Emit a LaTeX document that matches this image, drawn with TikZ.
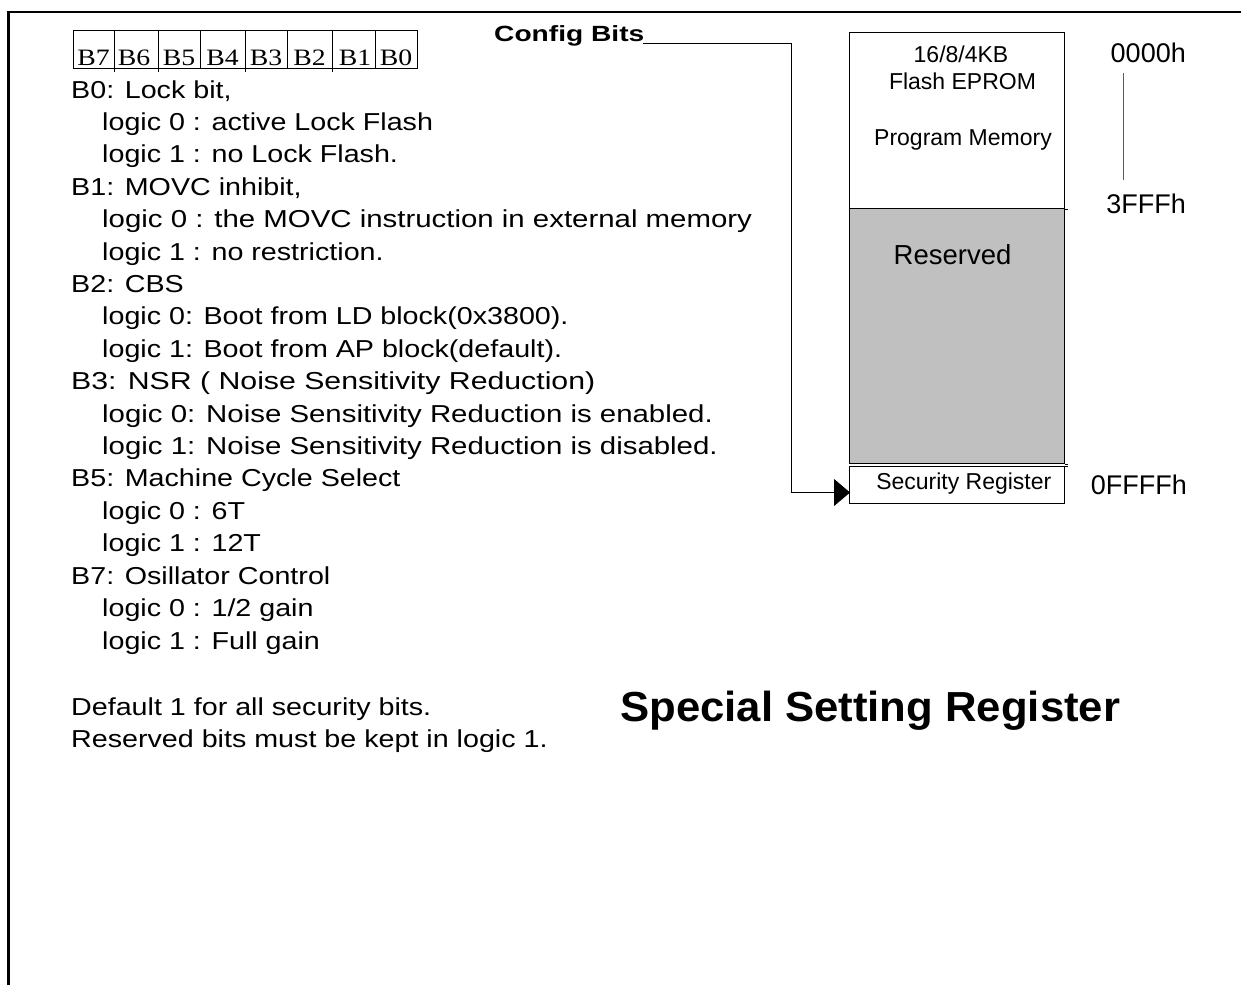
\documentclass[tikz,border=0pt]{standalone}
\usepackage{fontspec}
\setmainfont{Liberation Sans}
\newfontfamily\bodyf[FakeStretch=1.17]{Liberation Sans}
\newfontfamily\bodyw[FakeStretch=1.2]{Liberation Sans}
\newfontfamily\bodyx[FakeStretch=1.235]{Liberation Sans}
\newfontfamily\cfgf[FakeStretch=1.28]{Liberation Sans}
\newfontfamily\titlef[FakeStretch=1.04]{Liberation Sans}
\newfontfamily\timesf[FakeStretch=1.18]{Liberation Serif}
\usetikzlibrary{arrows.meta}
\begin{document}
\begin{tikzpicture}[x=1pt,y=-1pt,
  body/.style={anchor=base west, inner sep=0, font=\bodyf\fontsize{24.5}{24.5}\selectfont},
  bodywide/.style={body, font=\bodyw\fontsize{24.5}{24.5}\selectfont},
  bodyxwide/.style={body, font=\bodyx\fontsize{24.5}{24.5}\selectfont},
  memtxt/.style={anchor=base, inner sep=0, font=\fontsize{23}{23}\selectfont},
  addr/.style={anchor=base east, inner sep=0, font=\fontsize{27}{27}\selectfont},
  bitt/.style={anchor=base, inner sep=0, font=\timesf\fontsize{23.5}{23.5}\selectfont},
  bitcell/.style={draw, line width=0.8pt, inner sep=0, minimum height=38pt},
  region/.style={draw, line width=0.8pt, inner sep=0, anchor=north west, minimum width=214.7pt},
  thin/.style={line width=0.8pt},
]
\useasboundingbox (0,0) rectangle (1241,985);
% frame
\draw[line width=2.2pt] (8.5,985) -- (8.5,11.8) -- (1241,11.8);

% bit cells
\node[bitcell, minimum width=41pt] (c7) at (93.5,49) {};
\node[bitcell, minimum width=44pt] (c6) at (136,49) {};
\node[bitcell, minimum width=42pt] (c5) at (179,49) {};
\node[bitcell, minimum width=45pt] (c4) at (222.5,49) {};
\node[bitcell, minimum width=42pt] (c3) at (266,49) {};
\node[bitcell, minimum width=45pt] (c2) at (309.5,49) {};
\node[bitcell, minimum width=43pt] (c1) at (353.5,49) {};
\node[bitcell, minimum width=42pt] (c0) at (396,49) {};
\node[bitt] (l7) at (93.5,65.7) {B7};
\node[bitt] (l6) at (134,65.7) {B6};
\node[bitt] (l5) at (179,65.7) {B5};
\node[bitt] (l4) at (222.5,65.7) {B4};
\node[bitt] (l3) at (266,65.7) {B3};
\node[bitt] (l2) at (309.5,65.7) {B2};
\node[bitt] (l1) at (355,65.7) {B1};
\node[bitt] (l0) at (396,65.7) {B0};
\foreach \x in {114,158,245,332} \draw[thin] (\x,68) -- (\x,71.5);

% description text
\node[body] (t0) at (71,98) {B0: Lock bit,};
\node[body] (t1) at (102,130.4) {logic 0 : active Lock Flash};
\node[body] (t2) at (102,162.8) {logic 1 : no Lock Flash.};
\node[body] (t3) at (71,195.2) {B1: MOVC inhibit,};
\node[bodywide] (t4) at (102,227.6) {logic 0 : the MOVC instruction in external memory};
\node[body] (t5) at (102,260.1) {logic 1 : no restriction.};
\node[body] (t6) at (71,292.5) {B2: CBS};
\node[body] (t7) at (102,324.9) {logic 0: Boot from LD block(0x3800).};
\node[body] (t8) at (102,357.3) {logic 1: Boot from AP block(default).};
\node[bodyxwide] (t9) at (71,389.7) {B3: NSR ( Noise Sensitivity Reduction)};
\node[bodywide] (t10) at (102,422.1) {logic 0: Noise Sensitivity Reduction is enabled.};
\node[bodywide] (t11) at (102,454.5) {logic 1: Noise Sensitivity Reduction is disabled.};
\node[body] (t12) at (71,486.9) {B5: Machine Cycle Select};
\node[body] (t13) at (102,519.3) {logic 0 : 6T};
\node[body] (t14) at (102,551.7) {logic 1 : 12T};
\node[body] (t15) at (71,584.2) {B7: Osillator Control};
\node[body] (t16) at (102,616.6) {logic 0 : 1/2 gain};
\node[body] (t17) at (102,649) {logic 1 : Full gain};
\node[body] (d1) at (71,715) {Default 1 for all security bits.};
\node[body] (d2) at (71,747.7) {Reserved bits must be kept in logic 1.};

% title
\node[anchor=base west, inner sep=0, font=\titlef\bfseries\fontsize{42}{42}\selectfont] (title) at (620,721.7) {Special Setting Register};

% config bits label
\node[anchor=base west, inner sep=0, font=\cfgf\bfseries\fontsize{22}{22}\selectfont] (cfg) at (494,41.5) {Config Bits};

% memory map
\node[region, minimum height=176pt] (prog) at (849.3,32.3) {};
\node[region, minimum height=255pt, fill={rgb,255:red,192;green,192;blue,192}] (res) at (849.3,208.3) {};
\node[region, minimum height=37.3pt] (sec) at (849.3,466) {};
\draw[thin] (prog.south east) -- ++(2.7,0);
\draw[thin] (res.south east) -- ++(2.7,0);
\draw[thin] (sec.north east) -- ++(2.7,0);

\node[memtxt] (m1) at (961,62.5) {16/8/4KB};
\node[memtxt] (m2) at (962.5,89) {Flash EPROM};
\node[memtxt] (m3) at (963,145) {Program Memory};
\node[anchor=base, inner sep=0, font=\fontsize{27.5}{27.5}\selectfont] (m4) at (952.5,264) {Reserved};
\node[memtxt] (m5) at (963.8,489.3) {Security Register};

% addresses
\node[addr] (a1) at (1186,62) {0000h};
\node[addr] (a2) at (1186,213) {3FFFh};
\node[addr] (a3) at (1187,494) {0FFFFh};
\draw[line width=0.8pt, black!65] (1123,73) -- (1123,180);

% connector
\coordinate (cs) at (643,43.3);
\coordinate (ce) at (850,492.5);
\draw[thin, -{Triangle[length=16pt,width=27pt]}] (cs) -- (791,43.3) -- (791,492.5) -- (ce);
\end{tikzpicture}
\end{document}
